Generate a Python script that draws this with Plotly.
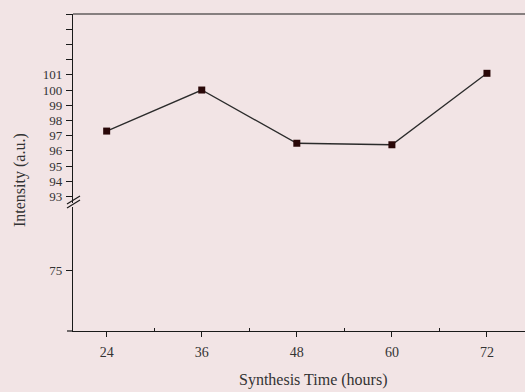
import plotly.graph_objects as go

# Data
synthesis_time = [24, 36, 48, 60, 72]
intensity = [97.3, 100.0, 96.5, 96.4, 101.1]

x_ticks = [24, 36, 48, 60, 72]
x_minor = [30, 42, 54, 66]
y_upper_ticks = list(range(93, 106))
y_upper_labels = [str(v) if v <= 101 else "" for v in y_upper_ticks]
y_lower_ticks = [75]

W, H = 525, 392
L, R, T, B = 73, 0, 14, 61
PH = H - T - B
PW = W - L - R

def px_x(px):
    return (px - L) / PW

def px_y(py):
    return (H - B - py) / PH

font_family = "Liberation Serif"
ink = "#1a1a1a"

fig = go.Figure()
fig.add_trace(go.Scatter(
    x=synthesis_time, y=intensity, mode="lines+markers",
    line=dict(color="#2b2b2b", width=1.3),
    marker=dict(symbol="square", size=7, color="#2a0808"),
    xaxis="x", yaxis="y", showlegend=False, hoverinfo="skip"))
fig.add_trace(go.Scatter(
    x=[None], y=[None], mode="markers", xaxis="x", yaxis="y2",
    showlegend=False, hoverinfo="skip"))

axis_common = dict(showgrid=False, zeroline=False, showline=True,
                   linecolor=ink, linewidth=1.2, tickcolor=ink)

fig.update_layout(
    width=W, height=H,
    margin=dict(l=L, r=R, t=T, b=B, pad=0),
    paper_bgcolor="#f2e4e5", plot_bgcolor="rgba(0,0,0,0)",
    xaxis=dict(**axis_common, range=[19.75, 76.8], anchor="y2",
               tickfont=dict(family=font_family, size=14, color="#333"),
               tickmode="array", tickvals=x_ticks, ticks="outside",
               ticklen=5, tickwidth=1.1, ticklabelstandoff=3,
               minor=dict(tickvals=x_minor, ticks="inside", ticklen=3,
                          tickcolor=ink, tickwidth=1)),
    yaxis=dict(**axis_common, domain=[px_y(203), 1], range=[92.57, 105.0],
               tickfont=dict(family=font_family, size=13, color="#333"),
               anchor="x", tickmode="array", tickvals=y_upper_ticks,
               ticktext=y_upper_labels, ticks="outside", ticklen=6,
               tickwidth=1.1, ticklabelstandoff=1),
    yaxis2=dict(**axis_common, domain=[0, px_y(207)], range=[71.0, 79.14],
                tickfont=dict(family=font_family, size=13, color="#333"),
                anchor="x", tickmode="array", tickvals=y_lower_ticks,
                ticks="outside", ticklen=6, tickwidth=1.1,
                ticklabelstandoff=1),
    shapes=[
        dict(type="line", xref="paper", yref="paper", x0=0, x1=1,
             y0=1, y1=1, line=dict(color=ink, width=1.2)),
        dict(type="line", xref="paper", yref="paper", x0=px_x(67), x1=0,
             y0=0, y1=0, line=dict(color=ink, width=1.2)),
        dict(type="line", xref="paper", yref="paper", x0=px_x(67), x1=px_x(80),
             y0=px_y(204), y1=px_y(196), line=dict(color=ink, width=1.2)),
        dict(type="line", xref="paper", yref="paper", x0=px_x(67), x1=px_x(80),
             y0=px_y(208), y1=px_y(200), line=dict(color=ink, width=1.2)),
    ],
    annotations=[
        dict(text="Synthesis Time (hours)", xref="paper", yref="paper",
             x=px_x(313), y=px_y(380), showarrow=False,
             font=dict(family=font_family, size=16, color="#333"),
             xanchor="center", yanchor="middle"),
        dict(text="Intensity (a.u.)", xref="paper", yref="paper",
             x=px_x(20), y=px_y(180), showarrow=False, textangle=-90,
             font=dict(family=font_family, size=16, color="#333"),
             xanchor="center", yanchor="middle"),
    ],
)

fig.write_html("out.html")
